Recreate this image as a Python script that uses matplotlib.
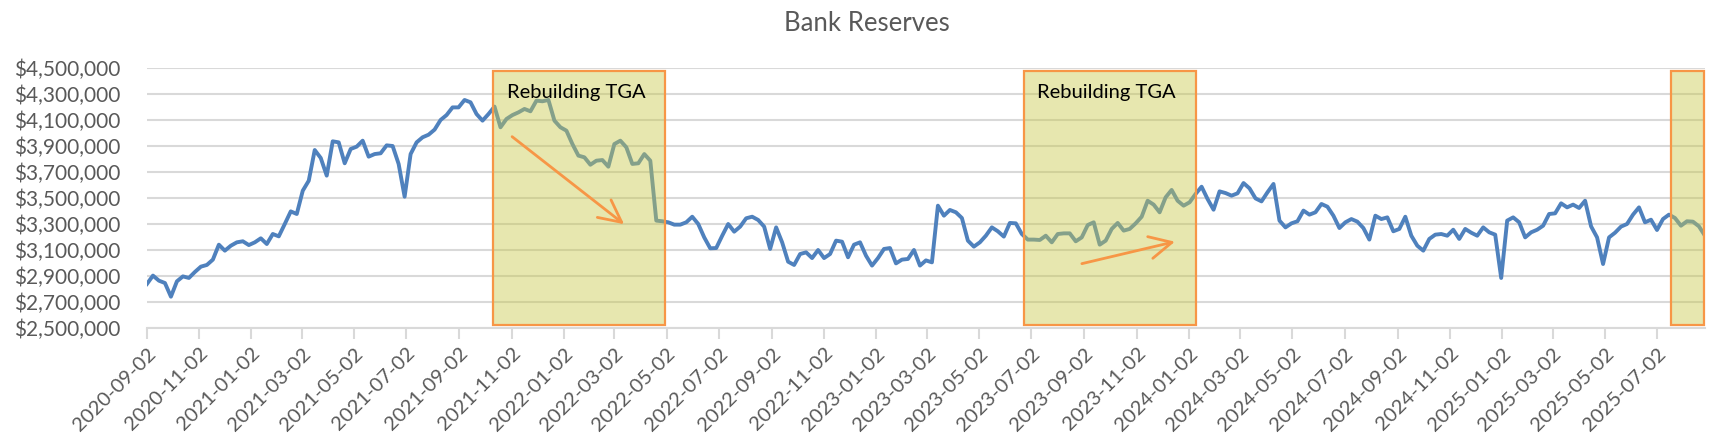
import numpy as np
import pandas as pd
import matplotlib
matplotlib.use("Agg")
import matplotlib.pyplot as plt
import matplotlib.dates as mdates
from matplotlib.patches import Rectangle
from matplotlib.ticker import FuncFormatter

# =========================================================
# DADOS (reservas semanais, em milhares -> x1000 no gráfico)
# =========================================================

START_DATE = "2020-09-02"

res_2020_21 = [2839, 2903, 2864, 2846, 2741, 2859, 2897, 2885, 2931, 2972, 2985, 3026,
               3141, 3095, 3133, 3159, 3167, 3138, 3159, 3190, 3146, 3223, 3205, 3300,
               3397, 3377, 3556, 3633, 3869, 3808, 3672, 3936, 3928, 3767, 3877, 3895,
               3941, 3818, 3838, 3844, 3905, 3900, 3762, 3510]
res_2021_22 = [3838, 3928, 3967, 3987, 4026, 4100, 4138, 4197, 4197, 4254, 4236, 4146,
               4095, 4146, 4203, 4044, 4108, 4138, 4159, 4185, 4167, 4249, 4244, 4254,
               4095, 4044, 4018, 3915, 3826, 3813, 3756, 3787, 3792, 3741, 3915, 3941,
               3890, 3762, 3767, 3838, 3787, 3326, 3321]
res_2022_23 = [3313, 3295, 3295, 3313, 3356, 3300, 3197, 3113, 3115, 3210, 3300, 3241,
               3280, 3344, 3356, 3331, 3280, 3108, 3274, 3159, 3010, 2985, 3069, 3082,
               3038, 3100, 3038, 3069, 3172, 3164, 3044, 3141, 3159, 3056, 2980, 3038,
               3108, 3115, 2997, 3026, 3031, 3100, 2980, 3020]
res_2023 = [3005, 3441, 3364, 3408, 3390, 3346, 3172, 3126, 3159, 3210, 3274, 3244,
            3203, 3308, 3305, 3223, 3180, 3180, 3177, 3210, 3159, 3223, 3228, 3228,
            3167, 3197, 3292, 3313, 3141, 3172, 3262, 3308, 3249, 3262, 3305, 3356,
            3479, 3449, 3390, 3505, 3562, 3479]
res_2024 = [3441, 3467, 3531, 3587, 3492, 3410, 3551, 3538, 3518, 3536, 3615, 3574,
            3497, 3474, 3544, 3608, 3326, 3274, 3305, 3321, 3403, 3372, 3390, 3454,
            3433, 3364, 3269, 3313, 3338, 3318, 3269, 3180, 3364, 3338, 3351, 3244,
            3262, 3356, 3210, 3133, 3095, 3185, 3218]
res_2025 = [3223, 3210, 3256, 3185, 3262, 3233, 3210, 3274, 3236, 3218, 2885, 3326,
            3351, 3313, 3197, 3236, 3256, 3287, 3377, 3382, 3459, 3428, 3449, 3423,
            3479, 3282, 3197, 2992, 3197, 3233, 3280, 3300, 3372, 3428, 3313, 3333,
            3254, 3338, 3372, 3346, 3287, 3321, 3318, 3282, 3210]

# períodos "Rebuilding TGA" (início, fim, rótulo)
tga_periods = [("2021-10-11", "2022-04-30", "Rebuilding TGA"),
               ("2023-06-24", "2024-01-10", "Rebuilding TGA"),
               ("2025-07-18", "2025-08-26", "")]
tga_label_dates = ["2022-01-17", "2023-09-28"]

# setas de tendência: (data início, valor início, data fim, valor fim)
trend_arrows = [("2021-10-31", 3985, "2022-03-16", 3285),
                ("2023-08-27", 2990, "2023-12-20", 3169)]

# =========================================================
# CONFIGURAÇÕES
# =========================================================

LINE_COLOR = "#4F81BD"
BOX_FILL = (0.79, 0.79, 0.29)
BOX_EDGE = "#F79646"
TEXT_GRAY = "#595959"
GRID_GRAY = "#D9D9D9"

plt.rcParams["font.family"] = ["Lato", "DejaVu Sans"]

values = np.array(res_2020_21 + res_2021_22 + res_2022_23 + res_2023 + res_2024 + res_2025) * 1000
dates = pd.date_range(START_DATE, periods=len(values), freq="7D")

fig = plt.figure(figsize=(17.33, 4.43), dpi=100)
ax = fig.add_axes([0.0848, 0.2596, 0.899, 0.5869])

ax.plot(dates, values, color=LINE_COLOR, lw=2.8, zorder=3, solid_joinstyle="round")

# =========================================================
# CAIXAS TGA + SETAS
# =========================================================

trans = ax.get_xaxis_transform()
for start, end, label in tga_periods:
    x0 = mdates.date2num(pd.Timestamp(start))
    x1 = mdates.date2num(pd.Timestamp(end))
    ax.add_patch(Rectangle((x0, 0.01), x1 - x0, 0.98, transform=trans,
                           facecolor=BOX_FILL, alpha=0.44, edgecolor="none", zorder=4,
                           clip_on=False))
    ax.add_patch(Rectangle((x0, 0.01), x1 - x0, 0.98, transform=trans,
                           facecolor="none", edgecolor=BOX_EDGE, lw=1.6, zorder=4.5,
                           clip_on=False))

for d, (_, _, label) in zip(tga_label_dates, tga_periods):
    ax.text(pd.Timestamp(d), 0.905, label, transform=trans, ha="center", va="center",
            fontsize=14.5, color="black", zorder=6)

for d0, v0, d1, v1 in trend_arrows:
    ax.annotate("", xy=(pd.Timestamp(d1), v1 * 1000), xytext=(pd.Timestamp(d0), v0 * 1000),
                arrowprops=dict(arrowstyle="->,head_length=0.8,head_width=0.4",
                                color=BOX_EDGE, lw=2, mutation_scale=20),
                zorder=6)

# =========================================================
# EIXOS
# =========================================================

ax.set_ylim(2_500_000, 4_500_000)
ax.set_yticks(np.arange(2_500_000, 4_500_001, 200_000))
ax.yaxis.set_major_formatter(FuncFormatter(lambda v, p: f"${v:,.0f}"))
ax.grid(axis="y", color=GRID_GRAY, lw=1.5, zorder=0)
ax.set_axisbelow(True)

ax.set_xlim(dates[0], dates[-1])
tick_dates = pd.date_range("2020-09-01", "2025-07-01", freq="2MS") + pd.Timedelta(days=1)
ax.set_xticks(tick_dates)
ax.set_xticklabels([d.strftime("%Y-%m-%d") for d in tick_dates], rotation=45,
                   ha="right", rotation_mode="anchor")

for side in ["top", "right", "left"]:
    ax.spines[side].set_visible(False)
ax.spines["bottom"].set_color(GRID_GRAY)
ax.spines["bottom"].set_linewidth(1.5)
ax.tick_params(axis="y", length=0, labelsize=15, labelcolor=TEXT_GRAY, pad=19)
ax.tick_params(axis="x", length=8, width=1.5, color=GRID_GRAY, labelsize=14.5,
               labelcolor=TEXT_GRAY, pad=4)

fig.suptitle("Bank Reserves", x=0.5, y=0.975, fontsize=18.5, color=TEXT_GRAY)

fig.savefig("out.png", dpi=100)
